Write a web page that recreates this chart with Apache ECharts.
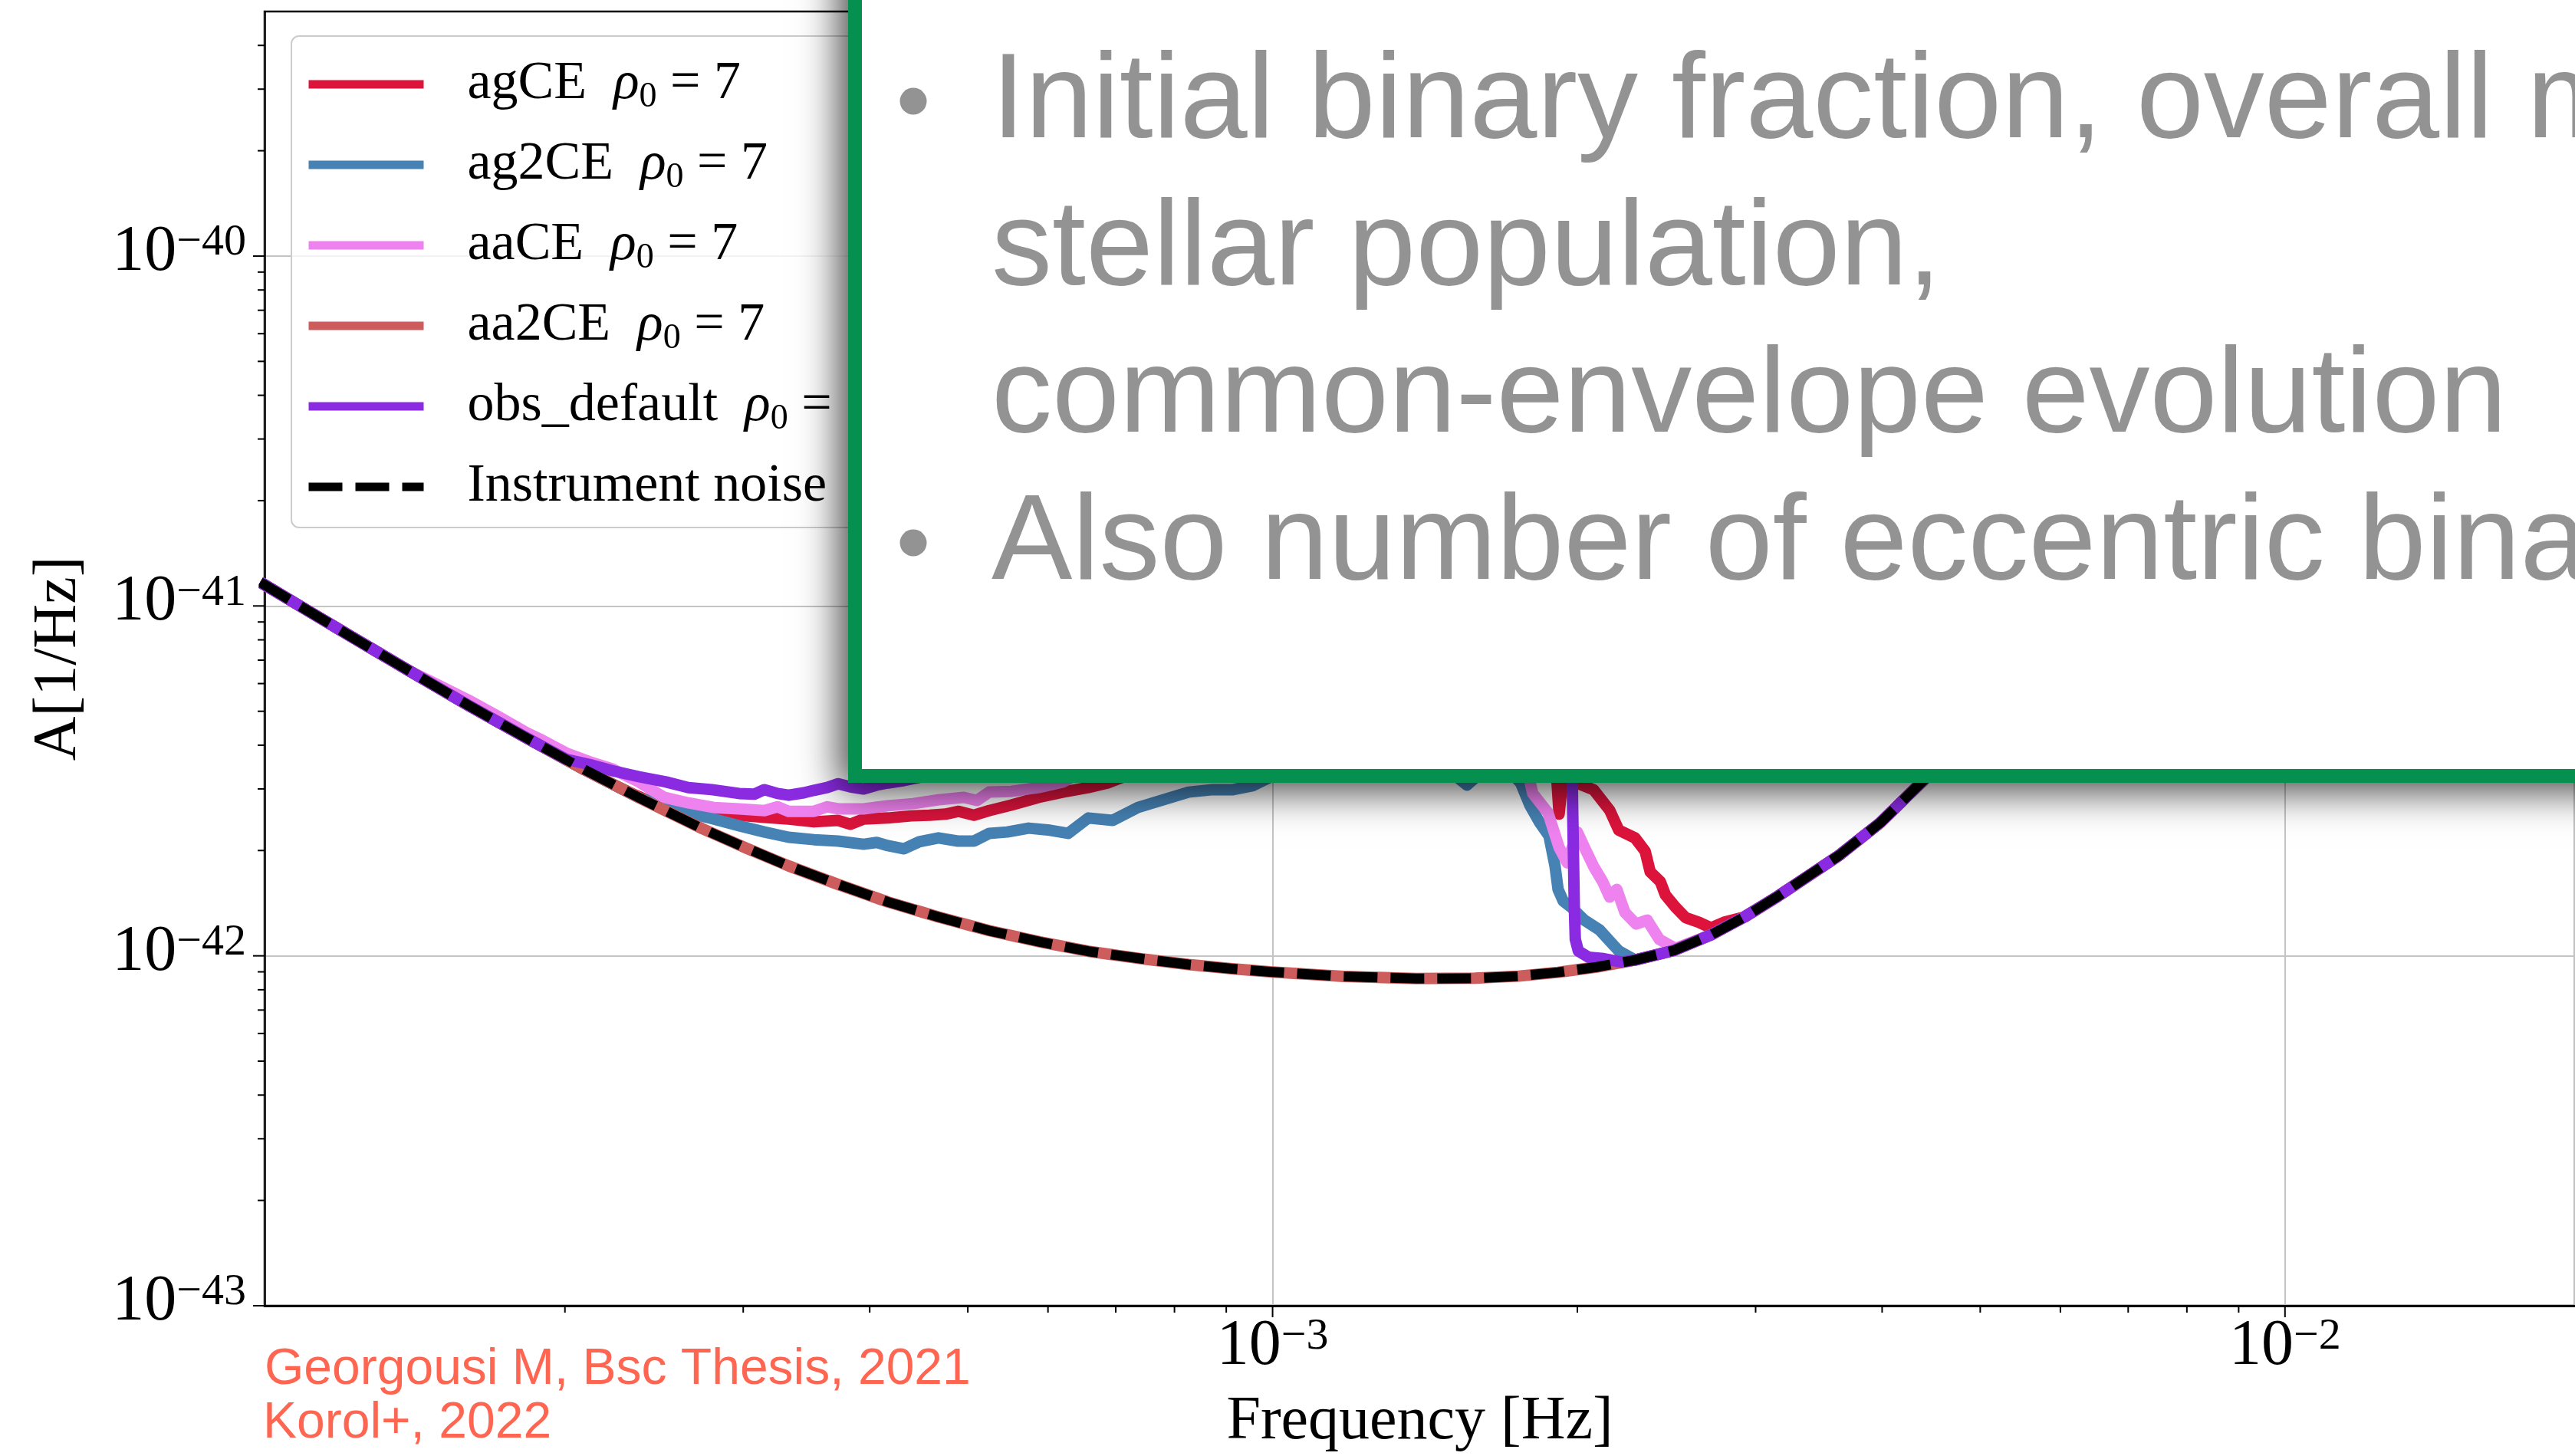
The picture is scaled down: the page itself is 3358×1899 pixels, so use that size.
<!DOCTYPE html>
<html>
<head>
<meta charset="utf-8">
<title>Foreground A(f) for CE variants</title>
<script src="https://cdn.jsdelivr.net/npm/echarts@6/dist/echarts.min.js"></script>
<style>
  html, body { margin: 0; padding: 0; background: #ffffff; }
  #chart { width: 3358px; height: 1899px; }
</style>
</head>
<body>
<div id="chart"></div>
<script>
// ---- axis ranges and tick values ----
const X_MIN = 1.01e-4, X_MAX = 0.01934;
const Y_MIN = 1e-43, Y_MAX = 5e-40;
const xMajorTicks = [1e-3, 1e-2];
const xMinorTicks = [2e-4, 3e-4, 4e-4, 5e-4, 6e-4, 7e-4, 8e-4, 9e-4,
                     2e-3, 3e-3, 4e-3, 5e-3, 6e-3, 7e-3, 8e-3, 9e-3];
const yMajorTicks = [1e-43, 1e-42, 1e-41, 1e-40];
const yMinorTicks = [2e-43, 3e-43, 4e-43, 5e-43, 6e-43, 7e-43, 8e-43, 9e-43,
                     2e-42, 3e-42, 4e-42, 5e-42, 6e-42, 7e-42, 8e-42, 9e-42,
                     2e-41, 3e-41, 4e-41, 5e-41, 6e-41, 7e-41, 8e-41, 9e-41,
                     2e-40, 3e-40, 4e-40];
const xTickExponents = [-3, -2];
const yTickExponents = [-43, -42, -41, -40];

// ---- curves, stored as [log10 f (Hz), log10 A (1/Hz)] ----
const noiseLog = [
  [-4.000,-40.932],[-3.955,-41.010],[-3.911,-41.086],[-3.853,-41.185],[-3.795,-41.283],[-3.737,-41.377],
  [-3.679,-41.469],[-3.621,-41.555],[-3.563,-41.637],[-3.520,-41.692],[-3.478,-41.743],[-3.430,-41.795],
  [-3.380,-41.846],[-3.330,-41.889],[-3.280,-41.928],[-3.230,-41.960],[-3.182,-41.987],[-3.130,-42.008],
  [-3.083,-42.025],[-3.040,-42.037],[-3.000,-42.046],[-2.930,-42.059],[-2.858,-42.065],[-2.800,-42.064],
  [-2.757,-42.058],[-2.718,-42.047],[-2.680,-42.032],[-2.642,-42.012],[-2.604,-41.985],[-2.567,-41.940],
  [-2.534,-41.889],[-2.501,-41.830],[-2.470,-41.770],[-2.440,-41.712],[-2.400,-41.620],[-2.358,-41.501],
  [-2.300,-41.330],[-2.250,-41.170],[-2.189,-40.949],[-2.100,-40.640],[-2.006,-40.296],[-1.900,-39.940],
  [-1.800,-39.600],[-1.700,-39.260]
];

const aa2CELog = [
  [-4.000,-40.932],[-3.955,-41.010],[-3.911,-41.086],[-3.853,-41.185],[-3.795,-41.283],[-3.737,-41.377],
  [-3.679,-41.469],[-3.621,-41.555],[-3.563,-41.637],[-3.520,-41.692],[-3.478,-41.743],[-3.430,-41.795],
  [-3.380,-41.846],[-3.330,-41.889],[-3.280,-41.928],[-3.230,-41.960],[-3.182,-41.987],[-3.130,-42.008],
  [-3.083,-42.025],[-3.040,-42.037],[-3.000,-42.046],[-2.930,-42.059],[-2.858,-42.065],[-2.800,-42.064],
  [-2.757,-42.058],[-2.718,-42.047],[-2.680,-42.032],[-2.642,-42.012],[-2.604,-41.985],[-2.567,-41.940],
  [-2.534,-41.889],[-2.501,-41.830],[-2.470,-41.770],[-2.440,-41.712],[-2.400,-41.620],[-2.358,-41.501],
  [-2.300,-41.330],[-2.250,-41.170],[-2.189,-40.949],[-2.100,-40.640],[-2.006,-40.296],[-1.900,-39.940],
  [-1.800,-39.600],[-1.700,-39.260]
];

const agCELog = [
  [-4.000,-40.932],[-3.955,-41.010],[-3.911,-41.086],[-3.853,-41.185],[-3.795,-41.283],[-3.737,-41.377],
  [-3.679,-41.469],[-3.652,-41.509],[-3.630,-41.540],[-3.607,-41.569],[-3.577,-41.580],[-3.552,-41.591],
  [-3.527,-41.598],[-3.502,-41.604],[-3.478,-41.609],[-3.453,-41.617],[-3.429,-41.613],[-3.417,-41.624],
  [-3.404,-41.609],[-3.380,-41.606],[-3.357,-41.600],[-3.339,-41.598],[-3.323,-41.595],[-3.310,-41.587],
  [-3.295,-41.598],[-3.280,-41.585],[-3.258,-41.569],[-3.231,-41.547],[-3.207,-41.532],[-3.182,-41.519],
  [-3.163,-41.506],[-3.122,-41.460],[-3.061,-41.405],[-3.000,-41.361],[-2.940,-41.328],[-2.880,-41.306],
  [-2.819,-41.306],[-2.774,-41.339],[-2.736,-41.372],[-2.720,-41.460],[-2.717,-41.595],[-2.713,-41.481],
  [-2.698,-41.508],[-2.683,-41.525],[-2.667,-41.584],[-2.658,-41.641],[-2.642,-41.663],[-2.632,-41.701],
  [-2.627,-41.760],[-2.617,-41.788],[-2.612,-41.826],[-2.602,-41.861],[-2.592,-41.891],[-2.579,-41.904],
  [-2.567,-41.920],[-2.554,-41.904],[-2.534,-41.889],[-2.501,-41.830],[-2.470,-41.770],[-2.440,-41.712],
  [-2.400,-41.620],[-2.358,-41.501],[-2.300,-41.330],[-2.250,-41.170],[-2.189,-40.949],[-2.100,-40.640],
  [-2.006,-40.296],[-1.900,-39.940],[-1.800,-39.600],[-1.700,-39.260]
];

const ag2CELog = [
  [-4.000,-40.932],[-3.955,-41.010],[-3.911,-41.086],[-3.853,-41.185],[-3.795,-41.283],[-3.737,-41.377],
  [-3.679,-41.469],[-3.626,-41.548],[-3.599,-41.573],[-3.577,-41.591],[-3.552,-41.609],[-3.527,-41.628],
  [-3.502,-41.646],[-3.478,-41.661],[-3.453,-41.668],[-3.429,-41.672],[-3.404,-41.681],[-3.391,-41.676],
  [-3.380,-41.685],[-3.364,-41.694],[-3.349,-41.674],[-3.330,-41.663],[-3.311,-41.672],[-3.295,-41.672],
  [-3.280,-41.650],[-3.262,-41.646],[-3.241,-41.635],[-3.220,-41.641],[-3.202,-41.650],[-3.182,-41.606],
  [-3.158,-41.613],[-3.133,-41.576],[-3.108,-41.554],[-3.083,-41.532],[-3.059,-41.525],[-3.039,-41.525],
  [-3.020,-41.514],[-3.000,-41.486],[-2.970,-41.460],[-2.940,-41.438],[-2.910,-41.427],[-2.880,-41.438],
  [-2.849,-41.460],[-2.819,-41.486],[-2.808,-41.512],[-2.796,-41.481],[-2.781,-41.460],[-2.766,-41.471],
  [-2.755,-41.506],[-2.746,-41.569],[-2.736,-41.620],[-2.727,-41.657],[-2.721,-41.744],[-2.718,-41.810],
  [-2.713,-41.843],[-2.705,-41.861],[-2.692,-41.898],[-2.677,-41.926],[-2.665,-41.964],[-2.658,-41.986],
  [-2.642,-42.012],[-2.604,-41.985],[-2.567,-41.940],[-2.534,-41.889],[-2.501,-41.830],[-2.470,-41.770],
  [-2.440,-41.712],[-2.400,-41.620],[-2.358,-41.501],[-2.300,-41.330],[-2.250,-41.170],[-2.189,-40.949],
  [-2.100,-40.640],[-2.006,-40.296],[-1.900,-39.940],[-1.800,-39.600],[-1.700,-39.260]
];

const aaCELog = [
  [-4.000,-40.932],[-3.955,-41.010],[-3.911,-41.086],[-3.853,-41.185],[-3.820,-41.232],[-3.795,-41.268],
  [-3.766,-41.314],[-3.737,-41.362],[-3.724,-41.380],[-3.698,-41.420],[-3.675,-41.445],[-3.652,-41.466],
  [-3.626,-41.503],[-3.601,-41.547],[-3.577,-41.563],[-3.552,-41.576],[-3.527,-41.580],[-3.502,-41.585],
  [-3.489,-41.574],[-3.478,-41.587],[-3.453,-41.587],[-3.440,-41.574],[-3.429,-41.580],[-3.404,-41.580],
  [-3.380,-41.571],[-3.355,-41.565],[-3.330,-41.554],[-3.305,-41.547],[-3.292,-41.556],[-3.280,-41.532],
  [-3.258,-41.530],[-3.231,-41.519],[-3.207,-41.503],[-3.160,-41.427],[-3.107,-41.372],[-3.046,-41.328],
  [-2.986,-41.273],[-2.925,-41.240],[-2.864,-41.229],[-2.819,-41.251],[-2.781,-41.306],[-2.751,-41.438],
  [-2.743,-41.536],[-2.728,-41.591],[-2.717,-41.690],[-2.709,-41.734],[-2.699,-41.646],[-2.692,-41.690],
  [-2.683,-41.744],[-2.674,-41.788],[-2.667,-41.832],[-2.660,-41.810],[-2.652,-41.876],[-2.641,-41.909],
  [-2.630,-41.898],[-2.618,-41.953],[-2.602,-41.979],[-2.567,-41.940],[-2.534,-41.889],[-2.501,-41.830],
  [-2.470,-41.770],[-2.440,-41.712],[-2.400,-41.620],[-2.358,-41.501],[-2.300,-41.330],[-2.250,-41.170],
  [-2.189,-40.949],[-2.100,-40.640],[-2.006,-40.296],[-1.900,-39.940],[-1.800,-39.600],[-1.700,-39.260]
];

const obsDefaultLog = [
  [-4.000,-40.932],[-3.955,-41.010],[-3.911,-41.086],[-3.853,-41.185],[-3.795,-41.283],[-3.737,-41.377],
  [-3.698,-41.438],[-3.675,-41.453],[-3.652,-41.471],[-3.626,-41.488],[-3.599,-41.503],[-3.577,-41.519],
  [-3.554,-41.525],[-3.527,-41.536],[-3.512,-41.538],[-3.502,-41.525],[-3.489,-41.536],[-3.478,-41.541],
  [-3.463,-41.534],[-3.453,-41.527],[-3.440,-41.519],[-3.429,-41.508],[-3.417,-41.517],[-3.404,-41.523],
  [-3.391,-41.512],[-3.380,-41.506],[-3.364,-41.499],[-3.349,-41.490],[-3.318,-41.429],[-3.273,-41.376],
  [-3.222,-41.313],[-3.183,-41.251],[-3.141,-41.203],[-3.099,-41.148],[-3.053,-41.094],[-3.016,-41.054],
  [-2.986,-41.037],[-2.955,-40.999],[-2.917,-40.977],[-2.870,-40.934],[-2.834,-40.901],[-2.804,-40.901],
  [-2.773,-40.916],[-2.748,-40.934],[-2.728,-40.966],[-2.713,-41.021],[-2.705,-41.240],[-2.704,-41.506],
  [-2.703,-41.679],[-2.702,-41.854],[-2.701,-41.953],[-2.698,-41.986],[-2.688,-42.004],[-2.673,-42.008],
  [-2.655,-42.018],[-2.642,-42.012],[-2.604,-41.985],[-2.567,-41.940],[-2.534,-41.889],[-2.501,-41.830],
  [-2.470,-41.770],[-2.440,-41.712],[-2.400,-41.620],[-2.358,-41.501],[-2.300,-41.330],[-2.250,-41.170],
  [-2.189,-40.949],[-2.100,-40.640],[-2.006,-40.296],[-1.900,-39.940],[-1.800,-39.600],[-1.700,-39.260]
];

// ---- text ----
const seriesNames = ['agCE', 'ag2CE', 'aaCE', 'aa2CE', 'obs_default', 'Instrument noise'];
const seriesColors = ['#DC143C', '#4682B4', '#EE82EE', '#CD5C5C', '#8A2BE2', '#000000'];
const rhoValue = '7';
const xAxisTitle = 'Frequency [Hz]';
const yAxisTitle = 'A[1/Hz]';
const bulletLines = [
  'Initial binary fraction, overall mass of the',
  'stellar population,',
  'common-envelope evolution',
  'Also number of eccentric binaries'
];
const creditLines = ['Georgousi M, Bsc Thesis, 2021', 'Korol+, 2022'];

const SERIF = '"Liberation Serif", "DejaVu Serif", serif';
const SANS = '"Liberation Sans", Arial, Helvetica, sans-serif';
const SLIDE_GRAY = '#939393';

const toXY = arr => arr.map(([lf, la]) => [Math.pow(10, lf), Math.pow(10, la)]);

const powRich = {
  b: { fontFamily: SERIF, fontSize: 84, lineHeight: 84, padding: [12, 0, 0, 0], verticalAlign: 'bottom', fill: '#000' },
  s: { fontFamily: SERIF, fontSize: 58, lineHeight: 58, verticalAlign: 'top', fill: '#000' }
};

function curve(idx, logPairs, dashed) {
  const color = seriesColors[idx];
  return {
    type: 'line',
    name: seriesNames[idx],
    data: toXY(logPairs),
    showSymbol: false,
    symbol: 'none',
    clip: true,
    z: 2,
    animation: false,
    emphasis: { disabled: true },
    itemStyle: { color },
    lineStyle: { color, width: dashed ? 13 : 15, join: 'round', type: dashed ? [44, 17] : 'solid' }
  };
}

// short outward tick marks at given axis values, placed through the axis scales
function tickMarks(name, values, axis, len) {
  return {
    type: 'custom',
    name,
    silent: true,
    clip: false,
    z: 6,
    animation: false,
    data: values.map(v => axis === 'x' ? [v, Y_MIN] : [X_MIN, v]),
    encode: { x: 0, y: 1 },
    renderItem(params, api) {
      const p = api.coord([api.value(0), api.value(1)]);
      const shape = axis === 'x'
        ? { x1: p[0], y1: p[1], x2: p[0], y2: p[1] + len }
        : { x1: p[0], y1: p[1], x2: p[0] - len, y2: p[1] };
      return { type: 'line', shape, style: { stroke: '#000', lineWidth: 2 } };
    }
  };
}

// "10^n" tick labels at the decades
function tickLabels(name, exponents, axis) {
  return {
    type: 'custom',
    name,
    silent: true,
    clip: false,
    z: 6,
    animation: false,
    data: exponents.map(e => axis === 'x' ? [Math.pow(10, e), Y_MIN, e] : [X_MIN, Math.pow(10, e), e]),
    encode: { x: 0, y: 1 },
    renderItem(params, api) {
      const p = api.coord([api.value(0), api.value(1)]);
      const e = api.value(2);
      return {
        type: 'text',
        x: axis === 'x' ? p[0] : p[0] - 24,
        y: axis === 'x' ? p[1] + 12 : p[1] - 4,
        style: {
          text: '{b|10}{s|\u2212' + Math.abs(e) + '}',
          rich: powRich,
          align: axis === 'x' ? 'center' : 'right',
          verticalAlign: axis === 'x' ? 'top' : 'middle'
        }
      };
    }
  };
}

const chart = echarts.init(document.getElementById('chart'), null, { renderer: 'canvas' });

const option = {
  backgroundColor: '#ffffff',
  animation: false,
  grid: {
    left: 345, top: 15, right: 0, bottom: 196,
    containLabel: false,
    outerBoundsMode: 'none',
    show: true, borderColor: '#000', borderWidth: 2.5, backgroundColor: 'transparent'
  },
  xAxis: {
    type: 'log', logBase: 10, min: X_MIN, max: X_MAX, splitNumber: 3,
    axisLine: { show: true, lineStyle: { color: '#000', width: 3 } },
    axisTick: { show: false },
    axisLabel: { show: false },
    splitLine: { show: true, lineStyle: { color: '#c4c4c4', width: 2 } },
    name: xAxisTitle, nameLocation: 'middle', nameGap: 112, nameMoveOverlap: false,
    nameTextStyle: { fontFamily: SERIF, fontSize: 80, color: '#000' }
  },
  yAxis: {
    type: 'log', logBase: 10, min: Y_MIN, max: Y_MAX, splitNumber: 4,
    axisLine: { show: true, lineStyle: { color: '#000', width: 2.5 } },
    axisTick: { show: false },
    axisLabel: { show: false },
    splitLine: { show: true, lineStyle: { color: '#c4c4c4', width: 2 } },
    name: yAxisTitle, nameLocation: 'middle', nameGap: 228, nameMoveOverlap: false,
    nameTextStyle: { fontFamily: SERIF, fontSize: 80, color: '#000' }
  },
  legend: {
    data: seriesNames,
    orient: 'vertical',
    left: 380, top: 47,
    padding: [28, 40, 18, 17],
    itemGap: 30,
    itemWidth: 150, itemHeight: 11,
    backgroundColor: 'rgba(255,255,255,0.8)',
    borderColor: '#cccccc', borderWidth: 2, borderRadius: 10,
    selectedMode: false,
    itemStyle: { opacity: 0 },
    lineStyle: { width: 11 },
    formatter: name => name === 'Instrument noise'
      ? '{t|' + name + '}'
      : '{t|' + name + '}{t|  }{i|\u03c1}{s|0}{t| = ' + rhoValue + '}',
    textStyle: {
      fontFamily: SERIF, fontSize: 70, color: '#000', padding: [0, 0, 0, 52],
      rich: {
        t: { fontFamily: SERIF, fontSize: 70, lineHeight: 80, color: '#000' },
        i: { fontFamily: SERIF, fontSize: 70, lineHeight: 80, fontStyle: 'italic', color: '#000' },
        s: { fontFamily: SERIF, fontSize: 46, lineHeight: 46, verticalAlign: 'bottom', color: '#000' }
      }
    }
  },
  series: [
    curve(0, agCELog),
    curve(1, ag2CELog),
    curve(2, aaCELog),
    curve(3, aa2CELog),
    curve(4, obsDefaultLog),
    curve(5, noiseLog, true),
    tickMarks('x-major', xMajorTicks, 'x', 15),
    tickMarks('x-minor', xMinorTicks, 'x', 9),
    tickMarks('y-major', yMajorTicks, 'y', 15),
    tickMarks('y-minor', yMinorTicks, 'y', 9),
    tickLabels('x-labels', xTickExponents, 'x'),
    tickLabels('y-labels', yTickExponents, 'y')
  ],
  graphic: {
    elements: [
      // slide text box with its drop shadow and green frame
      { type: 'rect', z: 100, silent: true,
        shape: { x: 1106, y: -200, width: 2600, height: 1221 },
        style: { fill: '#ffffff', shadowBlur: 50, shadowColor: 'rgba(0,0,0,0.75)', shadowOffsetX: -10, shadowOffsetY: 10 } },
      { type: 'rect', z: 101, silent: true,
        shape: { x: 1115, y: -200, width: 2600, height: 1212 },
        style: { fill: 'none', stroke: '#06904F', lineWidth: 18 } },
      { type: 'circle', z: 102, silent: true, shape: { cx: 1191, cy: 132, r: 17.5 }, style: { fill: SLIDE_GRAY } },
      { type: 'circle', z: 102, silent: true, shape: { cx: 1191, cy: 708, r: 17.5 }, style: { fill: SLIDE_GRAY } },
      { type: 'text', z: 102, silent: true, x: 1293, y: 135,
        style: { text: bulletLines[0], fontFamily: SANS, fontSize: 158, fill: SLIDE_GRAY, verticalAlign: 'middle' } },
      { type: 'text', z: 102, silent: true, x: 1293, y: 327,
        style: { text: bulletLines[1], fontFamily: SANS, fontSize: 158, fill: SLIDE_GRAY, verticalAlign: 'middle' } },
      { type: 'text', z: 102, silent: true, x: 1293, y: 519,
        style: { text: bulletLines[2], fontFamily: SANS, fontSize: 158, fill: SLIDE_GRAY, verticalAlign: 'middle' } },
      { type: 'text', z: 102, silent: true, x: 1293, y: 711,
        style: { text: bulletLines[3], fontFamily: SANS, fontSize: 158, fill: SLIDE_GRAY, verticalAlign: 'middle' } },
      // reference credits
      { type: 'text', z: 102, silent: true, x: 345, y: 1787,
        style: { text: creditLines[0], fontFamily: SANS, fontSize: 66, fill: '#FF6652', verticalAlign: 'middle' } },
      { type: 'text', z: 102, silent: true, x: 343, y: 1857,
        style: { text: creditLines[1], fontFamily: SANS, fontSize: 66, fill: '#FF6652', verticalAlign: 'middle' } }
    ]
  }
};

chart.setOption(option);
</script>
</body>
</html>
